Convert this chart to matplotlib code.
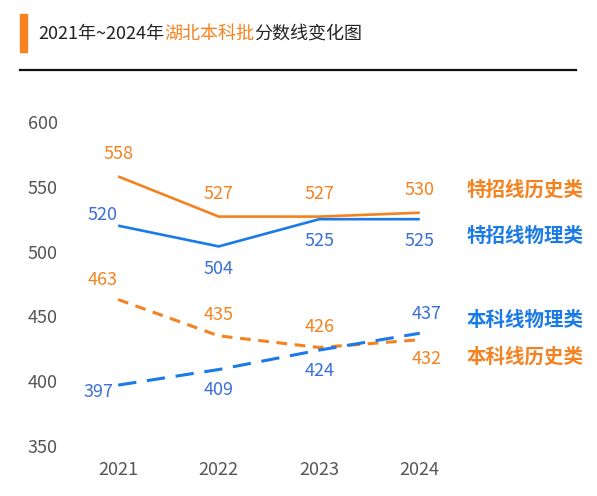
import matplotlib.pyplot as plt
import matplotlib.patches as mpatches
import matplotlib.lines as mlines

plt.rcParams['font.family'] = ['Noto Sans CJK SC', 'DejaVu Sans']

years = [2021, 2022, 2023, 2024]
special_history = [558, 527, 527, 530]
special_physics = [520, 504, 525, 525]
regular_physics = [397, 409, 424, 437]
regular_history = [463, 435, 426, 432]

ORANGE = "#f5821f"
BLUE = "#1a7ae8"
BLUE_TXT = "#3a6fd8"

fig = plt.figure(figsize=(5.97, 4.96), dpi=100)
ax = fig.add_axes([80 / 597, 50 / 496, 380 / 597, 324 / 496])

ax.plot(years, special_history, color=ORANGE, lw=1.9, solid_capstyle="butt")
ax.plot(years, special_physics, color=BLUE, lw=1.9, solid_capstyle="butt")
ax.plot(years, regular_history, color=ORANGE, lw=2.2, dashes=(3.5, 2.5))
ax.plot(years, regular_physics, color=BLUE, lw=2.2, dashes=(6, 3.5))

# label offsets in points (dx, dy)
off_sh = [(0, 16), (0, 16), (0, 16), (0, 16)]
off_sp = [(-11, 8), (0, -16), (0, -16), (0, -16)]
off_rh = [(-11, 14), (0, 15), (0, 15), (5, -14)]
off_rp = [(-14, -5), (0, -15), (0, -15), (5, 14)]

for vals, offs, col in [(special_history, off_sh, ORANGE),
                        (special_physics, off_sp, BLUE_TXT),
                        (regular_history, off_rh, ORANGE),
                        (regular_physics, off_rp, BLUE_TXT)]:
    for x, v, o in zip(years, vals, offs):
        ax.annotate(str(v), (x, v), xytext=o, textcoords="offset points",
                    ha="center", va="center", fontsize=13, color=col)

ax.set_xlim(2020.62, 2024.4)
ax.set_ylim(350, 600)
ax.set_xticks(years)
ax.set_yticks([350, 400, 450, 500, 550, 600])
ax.tick_params(length=0, labelsize=13, labelcolor="#555555")
ax.tick_params(axis="y", pad=16)
ax.tick_params(axis="x", pad=11)
for s in ax.spines.values():
    s.set_visible(False)

# series names at right
names = [("特招线历史类", 190, ORANGE), ("特招线物理类", 236, BLUE),
         ("本科线物理类", 320, BLUE), ("本科线历史类", 357, ORANGE)]
for txt, ypx, col in names:
    fig.text(525 / 597, 1 - ypx / 496, txt, ha="center", va="center",
             fontsize=14, color=col, fontweight="bold")

# title block
fig.patches.append(mpatches.Rectangle((20 / 597, 1 - 52 / 496), 7 / 597, 38 / 496,
                                      transform=fig.transFigure, color=ORANGE))
t1 = fig.text(38 / 597, 1 - 34 / 496, "2021年~2024年", ha="left", va="center",
              fontsize=13, color="#222222")
fig.canvas.draw()
r = fig.canvas.get_renderer()
bb = t1.get_window_extent(r)
t2 = fig.text(bb.x1 / fig.bbox.width, 1 - 34 / 496, "湖北本科批", ha="left", va="center",
              fontsize=13, color=ORANGE)
bb2 = t2.get_window_extent(r)
fig.text(bb2.x1 / fig.bbox.width, 1 - 34 / 496, "分数线变化图", ha="left", va="center",
         fontsize=13, color="#222222")
fig.lines.append(mlines.Line2D([20 / 597, 576 / 597], [1 - 70 / 496, 1 - 70 / 496],
                               transform=fig.transFigure, color="#111111", lw=1.6))

fig.savefig("out.png", dpi=100)
